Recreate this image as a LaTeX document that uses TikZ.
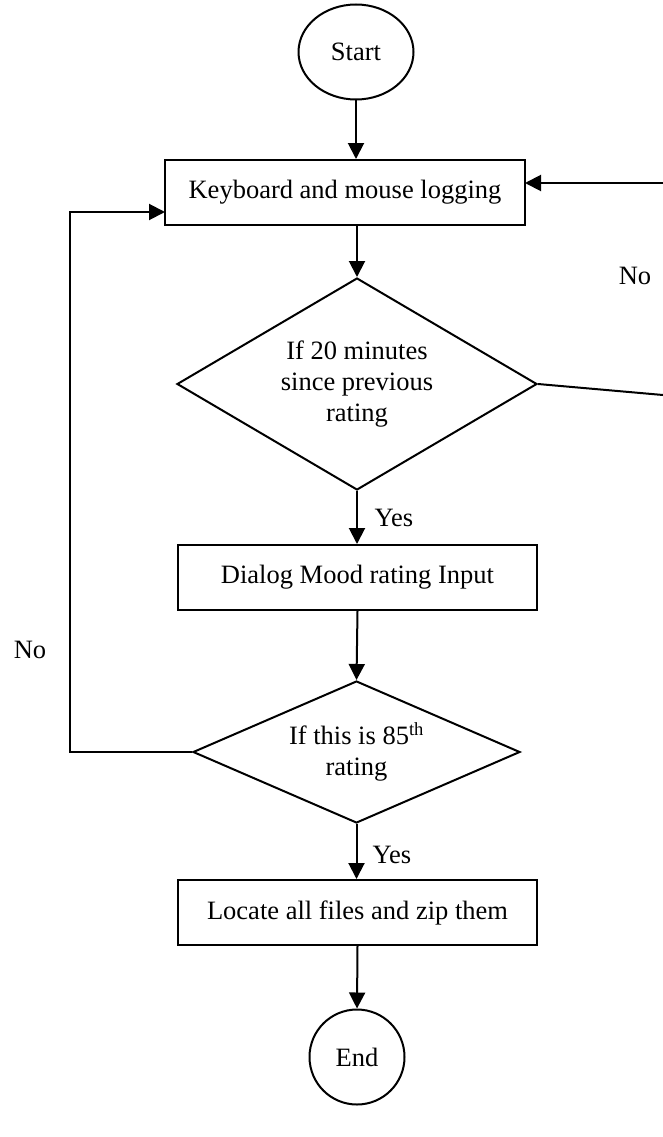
\documentclass[tikz,border=0pt]{standalone}
\usepackage{fontspec}
\setmainfont{Liberation Serif}
\usetikzlibrary{shapes.geometric,arrows.meta}

\tikzset{
  flow/.style={line width=2pt},
  arr/.style={flow, -{Triangle[length=16pt,width=16pt]}},
  termbox/.style={ellipse, draw, line width=2pt, inner sep=0pt},
  procbox/.style={rectangle, draw, line width=2pt, minimum height=65pt},
  testbox/.style={diamond, draw, line width=2pt, inner sep=0pt, align=center},
  lbl/.style={inner sep=0pt}
}

\begin{document}
\begin{tikzpicture}[x=1pt, y=-1pt, font=\fontsize{26.5}{31}\selectfont]
    \useasboundingbox (0,0) rectangle (663,1137);

    % terminals, steps and tests
    \node[termbox, minimum width=115pt, minimum height=95pt] (start) at (356,52) {Start};
    \node[procbox, minimum width=360pt] (kbd) at (345,192.5) {Keyboard and mouse logging};
    \node[testbox, minimum width=360pt, minimum height=212pt, shape aspect=1.7] (mins20) at (357,384)
        {If 20 minutes\\since previous\\rating};
    \node[procbox, minimum width=359pt] (dialog) at (357.5,577.5) {Dialog Mood rating Input};
    \node[testbox, minimum width=327pt, minimum height=142pt, shape aspect=2.3] (rate85) at (356.5,752)
        {If this is 85\textsuperscript{th}\\rating};
    \node[procbox, minimum width=359pt] (locate) at (357.5,912.5) {Locate all files and zip them};
    \node[termbox, minimum width=95pt, minimum height=95pt] (end) at (357,1057) {End};

    % labels
    \node[lbl] (noright) at (635,276) {No};
    \node[lbl] (yes20) at (394,518) {Yes};
    \node[lbl] (noleft) at (30,650) {No};
    \node[lbl] (yes85) at (392,855) {Yes};

    % loose ends
    \coordinate (edgeA) at (663,183);
    \coordinate (kbdR) at (525,183);
    \coordinate (edgeB) at (663,395);
    \coordinate (loopL) at (70,752);
    \coordinate (kbdL) at (165,212);

    % connectors
    \draw[arr] (start.south) -- (start.south |- kbd.north);
    \draw[arr] (mins20.north |- kbd.south) -- (mins20.north);
    \draw[arr] (mins20.south) -- (mins20.south |- dialog.north);
    \draw[arr] (dialog.south) -- (rate85.north);
    \draw[arr] (rate85.south) -- (rate85.south |- locate.north);
    \draw[arr] (locate.south) -- (end.north);
    \draw[arr] (edgeA) -- (kbdR);
    \draw[flow] (mins20.east) -- (edgeB);
    \draw[arr] (rate85.west) -- (loopL) |- (kbdL);
\end{tikzpicture}
\end{document}
